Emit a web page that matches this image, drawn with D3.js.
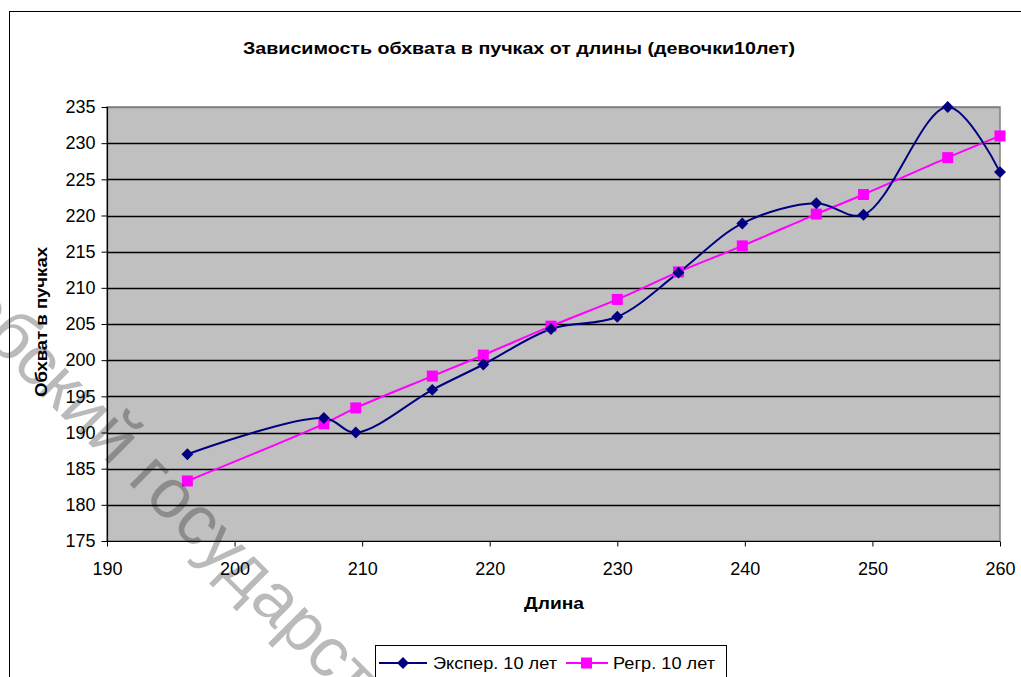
<!DOCTYPE html>
<html><head><meta charset="utf-8">
<script src="https://cdn.jsdelivr.net/npm/d3@7"></script>
<style>
html,body{margin:0;padding:0;background:#fff;overflow:hidden;}
svg{display:block;font-family:Arial,"Liberation Sans",sans-serif;}
</style></head>
<body>
<svg id="c" width="1021" height="677"></svg>
<script>
const title = "Зависимость обхвата в пучках от длины (девочки10лет)";
const xTitle = "Длина";
const yTitle = "Обхват в пучках";
const seriesNames = ["Экспер. 10 лет", "Регр. 10 лет"];
const lengths = [196.3, 207.0, 209.5, 215.5, 219.5, 224.8, 230.0, 234.8, 239.8, 245.6, 249.3, 255.9, 260.0];
const experValues = [187.0, 192.0, 190.0, 195.9, 199.4, 204.3, 206.0, 212.1, 218.9, 221.7, 220.1, 235.0, 226.0];
const regrValues = [183.3, 191.2, 193.4, 197.8, 200.7, 204.7, 208.4, 212.2, 215.8, 220.2, 222.9, 228.0, 231.0];
const xTicks = [190, 200, 210, 220, 230, 240, 250, 260];
const yTicks = [175, 180, 185, 190, 195, 200, 205, 210, 215, 220, 225, 230, 235];
const watermarkPrefix = "Витебски";
const watermarkRest = "й государственный университет";

const svg = d3.select("#c");
const L = 107, R = 1000, T = 107, B = 541;
const x = d3.scaleLinear().domain([190, 260]).range([L, R]);
const y = d3.scaleLinear().domain([175, 235]).range([B, T]);
const FONT = "Arial, 'Liberation Sans', sans-serif";

// outer frame
svg.append("rect").attr("x", 9.5).attr("y", 11.5).attr("width", 1100).attr("height", 800)
  .attr("fill", "#fff").attr("stroke", "#000").attr("stroke-width", 1);

// plot area
svg.append("rect").attr("x", L).attr("y", T).attr("width", R - L).attr("height", B - T)
  .attr("fill", "#c0c0c0").attr("stroke", "#808080").attr("stroke-width", 1.5);

// gridlines
svg.append("g").selectAll("line").data(yTicks.slice(1)).join("line")
  .attr("x1", L).attr("x2", R)
  .attr("y1", d => Math.round(y(d)) + 0.5).attr("y2", d => Math.round(y(d)) + 0.5)
  .attr("stroke", d => d === 235 ? "#808080" : "#000").attr("stroke-width", 1.3);

// axes
const yAxis = d3.axisLeft(y).tickValues(yTicks).tickSize(6).tickPadding(6).tickFormat(d3.format("d"));
const gy = svg.append("g").attr("transform", `translate(${L + 0.5},0)`).call(yAxis);
const xAxis = d3.axisBottom(x).tickValues(xTicks).tickSize(5).tickPadding(16).tickFormat(d3.format("d"));
const gx = svg.append("g").attr("transform", `translate(0,${B + 0.5})`).call(xAxis);
[gx, gy].forEach(g => {
  g.select(".domain").attr("stroke", "#000").attr("stroke-width", 1.2);
  g.selectAll(".tick line").attr("stroke", "#000");
  g.selectAll(".tick text").attr("fill", "#000").style("font-size", "18px").style("font-family", FONT);
});
gx.select(".domain").attr("d", `M${L},0H${R}`);
gy.select(".domain").attr("d", `M0,${B}V${T}`);

// titles
svg.append("text").attr("x", 519).attr("y", 54).attr("text-anchor", "middle")
  .style("font-size", "17px").style("font-weight", "bold").attr("textLength", 552)
  .attr("lengthAdjust", "spacingAndGlyphs").text(title);
svg.append("text").attr("x", 554).attr("y", 609).attr("text-anchor", "middle")
  .style("font-size", "17px").style("font-weight", "bold").attr("textLength", 60)
  .attr("lengthAdjust", "spacingAndGlyphs").text(xTitle);
svg.append("text").attr("transform", "translate(47,322) rotate(-90)").attr("text-anchor", "middle")
  .style("font-size", "17px").style("font-weight", "bold").attr("textLength", 150)
  .attr("lengthAdjust", "spacingAndGlyphs").text(yTitle);

// series
const ptsE = lengths.map((l, i) => [l, experValues[i]]);
const ptsR = lengths.map((l, i) => [l, regrValues[i]]);
const line = d3.line().x(d => x(d[0])).y(d => y(d[1])).curve(d3.curveCatmullRom.alpha(0.5));
svg.append("path").datum(ptsR).attr("d", line).attr("fill", "none").attr("stroke", "#ff00ff").attr("stroke-width", 2);
svg.append("path").datum(ptsE).attr("d", line).attr("fill", "none").attr("stroke", "#000080").attr("stroke-width", 2);
svg.append("g").selectAll("rect").data(ptsR).join("rect")
  .attr("x", d => x(d[0]) - 5.5).attr("y", d => y(d[1]) - 5.5).attr("width", 11).attr("height", 11)
  .attr("fill", "#ff00ff");
const diamond = d3.symbol().type(d3.symbolDiamond2).size(90);
svg.append("g").selectAll("path").data(ptsE).join("path")
  .attr("transform", d => `translate(${x(d[0])},${y(d[1])})`).attr("d", diamond).attr("fill", "#000080");

// legend
const lg = svg.append("g");
lg.append("rect").attr("x", 375.5).attr("y", 645.5).attr("width", 351).attr("height", 60)
  .attr("fill", "#fff").attr("stroke", "#000");
const ly = 663;
lg.append("line").attr("x1", 379).attr("x2", 427).attr("y1", ly).attr("y2", ly).attr("stroke", "#000080").attr("stroke-width", 2);
lg.append("path").attr("transform", `translate(403,${ly})`).attr("d", diamond).attr("fill", "#000080");
lg.append("text").attr("x", 433).attr("y", ly + 6).style("font-size", "17px").attr("textLength", 124)
  .attr("lengthAdjust", "spacingAndGlyphs").text(seriesNames[0]);
lg.append("line").attr("x1", 566).attr("x2", 608).attr("y1", ly).attr("y2", ly).attr("stroke", "#ff00ff").attr("stroke-width", 2);
lg.append("rect").attr("x", 581).attr("y", ly - 5.5).attr("width", 11).attr("height", 11).attr("fill", "#ff00ff");
lg.append("text").attr("x", 613).attr("y", ly + 6).style("font-size", "17px").attr("textLength", 102)
  .attr("lengthAdjust", "spacingAndGlyphs").text(seriesNames[1]);

// watermark (positioned so the "й" sits where the reference shows it)
const fs = 70, ang = 45, rad = ang * Math.PI / 180;
const probe = svg.append("text").style("font-size", fs + "px").style("font-family", FONT);
probe.text(watermarkPrefix); const pw = probe.node().getComputedTextLength();
probe.text("й"); const jw = probe.node().getComputedTextLength();
probe.remove();
const px = pw + jw / 2, py = -0.27 * fs;
const tx = 112 - (px * Math.cos(rad) - py * Math.sin(rad));
const ty = 440 - (px * Math.sin(rad) + py * Math.cos(rad));
svg.append("text").attr("transform", `translate(${tx},${ty}) rotate(${ang})`)
  .style("font-size", fs + "px").style("font-family", FONT).attr("fill", "#000").attr("fill-opacity", 0.27)
  .text(watermarkPrefix + watermarkRest);
</script>
</body></html>
